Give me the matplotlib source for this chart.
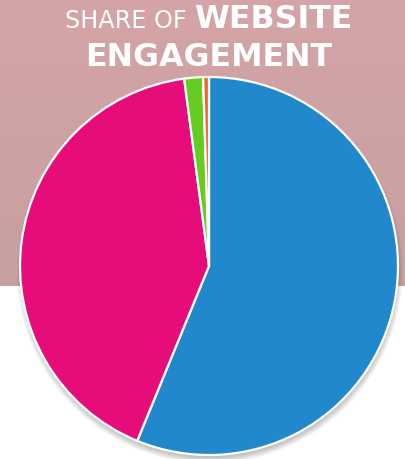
import numpy as np
import matplotlib
matplotlib.use("Agg")
import matplotlib.pyplot as plt
from matplotlib.patches import Circle

# Data
categories = ["Blue", "Magenta", "Green", "Orange"]
values = [56.2, 41.7, 1.6, 0.5]
colors = ["#2288cc", "#e60d7a", "#66cc22", "#f26531"]
title_light = "SHARE OF "
title_bold_1 = "WEBSITE"
title_bold_2 = "ENGAGEMENT"

W, H = 405, 460
fig = plt.figure(figsize=(W / 100, H / 100), dpi=100)
fig.patch.set_facecolor("white")

# Background band with gradient
band_h = 287
bg = fig.add_axes([0, 1 - band_h / H, 1, band_h / H])
top = np.array([0.835, 0.643, 0.651])
bot = np.array([0.780, 0.627, 0.627])
t = np.linspace(0, 1, 200)[:, None, None]
grad = top[None, None, :] * (1 - t) + bot[None, None, :] * t
grad = np.repeat(grad, 2, axis=1)
bg.imshow(grad, aspect="auto", extent=[0, 1, 0, 1])
bg.set_axis_off()

# Pie axes
cx, cy, r = 209, 267, 189
m = 1.04
ax = fig.add_axes([(cx - r * m) / W, 1 - (cy + r * m) / H, 2 * r * m / W, 2 * r * m / H])
ax.set_axis_off()

# Soft shadow
for i in range(10):
    rr = 0.985 + i * 0.004
    ax.add_patch(Circle((0.004, -0.024), rr, color="black", alpha=0.028, lw=0, zorder=0))

ax.pie(values, colors=colors, startangle=90, counterclock=False, radius=1.0,
       wedgeprops=dict(edgecolor="white", linewidth=1.6), frame=False)
ax.set_xlim(-m, m)
ax.set_ylim(-m, m)
ax.set_aspect("equal")

# Title
fs_bold = 22.8
fs_light = 17.2
tcx = 209
base1 = 1 - 28 / H
t1 = fig.text(0.5, base1, title_light, color="white", fontsize=fs_light,
              fontweight="normal", ha="left", va="baseline")
t2 = fig.text(0.5, base1, title_bold_1, color="white", fontsize=fs_bold,
              fontweight="bold", ha="left", va="baseline")
fig.canvas.draw()
renderer = fig.canvas.get_renderer()
w1 = t1.get_window_extent(renderer).width
w2 = t2.get_window_extent(renderer).width
start = tcx - (w1 + w2) / 2
t1.set_position((start / W, base1))
t2.set_position(((start + w1) / W, base1))
fig.text(tcx / W, 1 - 66 / H, title_bold_2, color="white", fontsize=fs_bold,
         fontweight="bold", ha="center", va="baseline")

fig.savefig("out.png", dpi=100)
